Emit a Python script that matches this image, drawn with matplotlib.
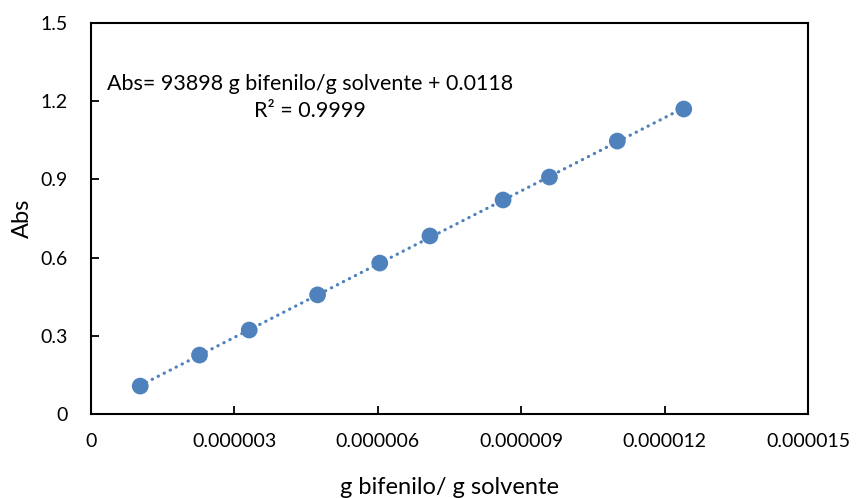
import numpy as np
import matplotlib.pyplot as plt

plt.rcParams['font.family'] = ['Lato', 'DejaVu Sans']

# data
conc = [1.03e-6, 2.27e-6, 3.31e-6, 4.74e-6, 6.04e-6, 7.09e-6, 8.62e-6, 9.59e-6, 11.01e-6, 12.40e-6]
absorb = [0.107, 0.226, 0.322, 0.457, 0.579, 0.683, 0.821, 0.909, 1.047, 1.170]
xticks = [0, 0.000003, 0.000006, 0.000009, 0.000012, 0.000015]
xticklabels = ['0', '0.000003', '0.000006', '0.000009', '0.000012', '0.000015']
yticks = [0, 0.3, 0.6, 0.9, 1.2, 1.5]
yticklabels = ['0', '0.3', '0.6', '0.9', '1.2', '1.5']

blue = '#4F81BD'

fig = plt.figure(figsize=(8.56, 4.98), dpi=100)
ax = fig.add_axes([0.1063, 0.1687, 0.8377, 0.7851])

# trendline over the data range
m, b = np.polyfit(conc, absorb, 1)
xs = np.array([min(conc), max(conc)])
ax.plot(xs, m * xs + b, color=blue, lw=2.3, linestyle=(0, (0.1, 2.0)),
        dash_capstyle='round', zorder=2)
ax.scatter(conc, absorb, s=145, color=blue, edgecolors='none', zorder=3)

ax.set_xlim(0, 0.000015)
ax.set_ylim(0, 1.5)
ax.set_xticks(xticks)
ax.set_xticklabels(xticklabels)
ax.set_yticks(yticks)
ax.set_yticklabels(yticklabels)
ax.tick_params(direction='in', length=6, width=1.3, labelsize=14, colors='black')
ax.tick_params(axis='x', pad=14)
ax.tick_params(axis='y', pad=17)
for s in ax.spines.values():
    s.set_linewidth(1.5)
    s.set_color('black')

ax.set_xlabel('g bifenilo/ g solvente', fontsize=17, labelpad=19)
ax.set_ylabel('Abs', fontsize=17, labelpad=5)

ax.text(0.000004577, 1.215, 'Abs= 93898 g bifenilo/g solvente + 0.0118\nR² = 0.9999',
        ha='center', va='center', multialignment='center', fontsize=15.5,
        linespacing=1.45)

fig.savefig('out.png', dpi=100)
